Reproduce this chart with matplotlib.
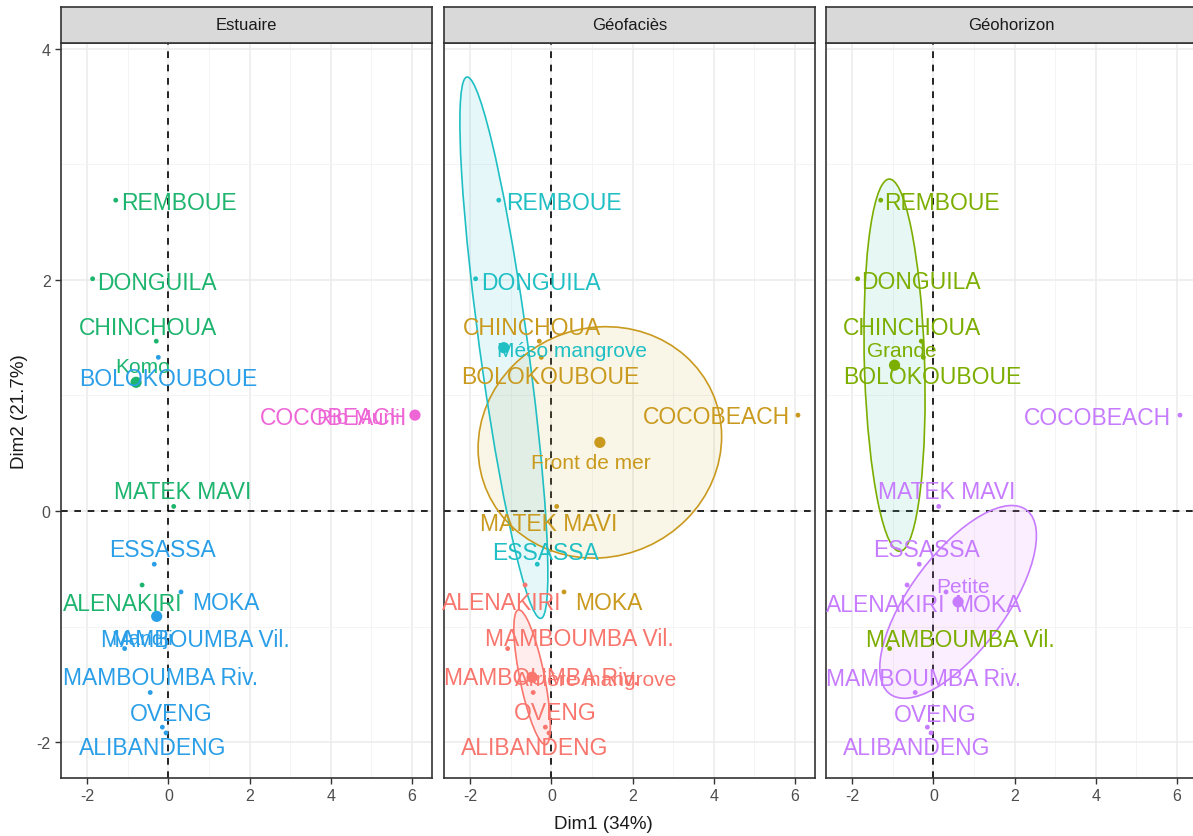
import numpy as np
import matplotlib.pyplot as plt
from matplotlib.patches import Ellipse

plt.rcParams['font.family'] = ['Liberation Sans', 'DejaVu Sans']
plt.rcParams['axes.unicode_minus'] = False

# individuals (PCA coordinates)
names = ["REMBOUE", "DONGUILA", "CHINCHOUA", "BOLOKOUBOUE", "COCOBEACH", "MATEK MAVI",
         "ESSASSA", "ALENAKIRI", "MOKA", "MAMBOUMBA Vil.", "MAMBOUMBA Riv.", "OVENG", "ALIBANDENG"]
dim1 = [-1.30, -1.87, -0.30, -0.25, 6.08, 0.13, -0.35, -0.65, 0.31, -1.08, -0.45, -0.15, -0.06]
dim2 = [2.69, 2.01, 1.47, 1.33, 0.83, 0.04, -0.46, -0.64, -0.70, -1.19, -1.57, -1.87, -1.92]

# group membership per facet
estuaire = ["Komo", "Komo", "Komo", "Mandji", "Rio Muni", "Komo", "Mandji",
            "Komo", "Mandji", "Mandji", "Mandji", "Mandji", "Mandji"]
geofacies = ["Méso mangrove", "Méso mangrove", "Front de mer", "Front de mer", "Front de mer",
             "Front de mer", "Méso mangrove", "Arrière mangrove", "Front de mer",
             "Arrière mangrove", "Arrière mangrove", "Arrière mangrove", "Arrière mangrove"]
geohorizon = ["Grande", "Grande", "Grande", "Grande", "Petite", "Petite", "Petite",
              "Petite", "Petite", "Grande", "Petite", "Petite", "Petite"]

# repelled label positions
lab_est_x = [0.27, -0.29, -0.51, 0.0, 4.08, 0.35, -0.15, -1.14, 1.41, 0.67, -0.2, 0.08, -0.39]
lab_est_y = [2.67, 1.98, 1.59, 1.15, 0.81, 0.17, -0.33, -0.80, -0.79, -1.11, -1.44, -1.75, -2.05]
lab_geof_x = [0.3, -0.27, -0.49, -0.02, 4.08, -0.07, -0.15, -1.23, 1.41, 0.69, -0.25, 0.1, -0.42]
lab_geof_y = [2.67, 1.98, 1.59, 1.16, 0.82, -0.11, -0.36, -0.79, -0.79, -1.1, -1.44, -1.74, -2.05]
lab_geoh_x = [0.22, -0.32, -0.54, -0.02, 4.05, 0.32, -0.17, -1.18, 1.33, 0.66, -0.25, 0.05, -0.42]
lab_geoh_y = [2.67, 1.99, 1.59, 1.16, 0.81, 0.17, -0.33, -0.81, -0.81, -1.11, -1.45, -1.76, -2.05]

est_groups = ["Komo", "Mandji", "Rio Muni"]
est_lab = [(-0.64, 1.25), (-0.64, -1.1), (4.69, 0.81)]
geof_groups = ["Arrière mangrove", "Front de mer", "Méso mangrove"]
geof_lab = [(1.1, -1.46), (0.98, 0.42), (0.5, 1.39)]
geoh_groups = ["Grande", "Petite"]
geoh_lab = [(-0.77, 1.39), (0.74, -0.65)]

colors = {"Komo": "#1DB46E", "Mandji": "#2A9FE8", "Rio Muni": "#EE66D6",
          "Arrière mangrove": "#F8766D", "Front de mer": "#C99A1E", "Méso mangrove": "#1FBFC4",
          "Grande": "#7CAE00", "Petite": "#C77CFF"}
fills = {"Arrière mangrove": "#F8766D", "Front de mer": "#D4B24A", "Méso mangrove": "#3EC3E0",
         "Grande": "#3EC3B0", "Petite": "#E07CFF"}

dim1 = np.array(dim1)
dim2 = np.array(dim2)

W, H = 1193, 837
fig = plt.figure(figsize=(W / 100, H / 100), dpi=100)

panel_left = [61, 444, 826]
panel_w = 371
bottom = 58
panel_h = 735
strip_h = 36
titles = ["Estuaire", "Géofaciès", "Géohorizon"]
facets = [
    (estuaire, est_groups, est_lab, lab_est_x, lab_est_y, False),
    (geofacies, geof_groups, geof_lab, lab_geof_x, lab_geof_y, True),
    (geohorizon, geoh_groups, geoh_lab, lab_geoh_x, lab_geoh_y, True),
]

chi2_95 = 5.991  # chi-square quantile, 2 df

for i, (grp, levels, glab, lx, ly, ellipses) in enumerate(facets):
    ax = fig.add_axes([panel_left[i] / W, bottom / H, panel_w / W, panel_h / H])
    ax.set_xlim(-2.65, 6.5)
    ax.set_ylim(-2.31, 4.05)
    ax.set_xticks([-2, 0, 2, 4, 6])
    ax.set_yticks([-2, 0, 2, 4])
    ax.set_xticks([-1, 1, 3, 5], minor=True)
    ax.set_yticks([-1, 1, 3], minor=True)
    ax.grid(True, which='major', color='#EBEBEB', lw=1.1)
    ax.grid(True, which='minor', color='#F3F3F3', lw=0.6)
    ax.set_axisbelow(True)
    ax.tick_params(which='minor', length=0)
    ax.tick_params(which='major', length=4, color='#333333', labelsize=11.5,
                   labelcolor='#4D4D4D', width=1)
    for s in ax.spines.values():
        s.set_color('#333333')
        s.set_linewidth(1.2)
    if i > 0:
        ax.set_yticklabels([])
        ax.tick_params(axis='y', length=0)
    ax.axhline(0, color='black', ls=(0, (4, 4)), lw=1.2, zorder=1)
    ax.axvline(0, color='black', ls=(0, (4, 4)), lw=1.2, zorder=1)

    grp = np.array(grp)
    for g, (gx, gy) in zip(levels, glab):
        m = grp == g
        c = colors[g]
        px, py = dim1[m], dim2[m]
        mx, my = px.mean(), py.mean()
        if ellipses and m.sum() > 1:
            cov = np.cov(px, py) / m.sum()
            vals, vecs = np.linalg.eigh(cov)
            ang = np.degrees(np.arctan2(vecs[1, 1], vecs[0, 1]))
            w2, h2 = 2 * np.sqrt(chi2_95 * vals[1]), 2 * np.sqrt(chi2_95 * vals[0])
            ax.add_patch(Ellipse((mx, my), w2, h2, angle=ang, facecolor=fills[g],
                                 alpha=0.13, edgecolor='none', zorder=2))
            ax.add_patch(Ellipse((mx, my), w2, h2, angle=ang, facecolor='none',
                                 edgecolor=c, lw=1.2, zorder=3))
        ax.scatter(px, py, s=12, color=c, zorder=4, edgecolors='none')
        ax.scatter([mx], [my], s=65, color=c, zorder=5, edgecolors='none')
        ax.text(gx, gy, g, color=c, fontsize=15, ha='center', va='center', zorder=6)

    for k, n in enumerate(names):
        ax.text(lx[k], ly[k], n, color=colors[grp[k]], fontsize=16.5,
                ha='center', va='center', zorder=6)

    sax = fig.add_axes([panel_left[i] / W, (bottom + panel_h) / H, panel_w / W, strip_h / H])
    sax.set_facecolor('#D9D9D9')
    sax.set_xticks([])
    sax.set_yticks([])
    for s in sax.spines.values():
        s.set_color('#333333')
        s.set_linewidth(1.2)
    sax.text(0.5, 0.5, titles[i], ha='center', va='center', fontsize=12,
             color='#1A1A1A', transform=sax.transAxes)

    if i == 0:
        ax.set_ylabel('Dim2 (21.7%)', fontsize=13.5, color='#1A1A1A', labelpad=6)

fig.text(603 / W, 1 - 825 / H, 'Dim1 (34%)', ha='center', va='center',
         fontsize=13.5, color='#1A1A1A')

plt.savefig('out.png', dpi=100)
